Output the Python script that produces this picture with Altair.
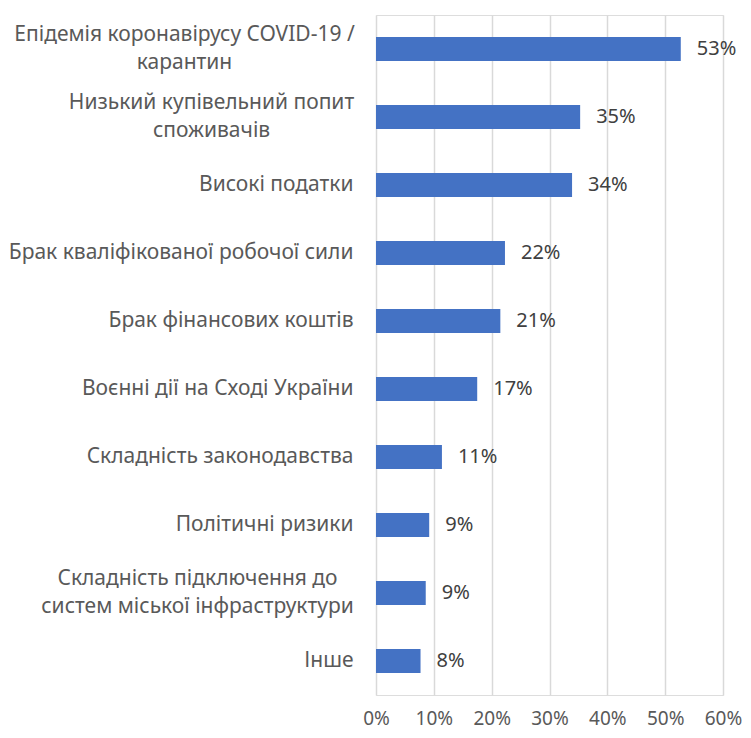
import altair as alt
import pandas as pd

categories = [
    "Епідемія коронавірусу COVID-19 /\nкарантин",
    "Низький купівельний попит\nспоживачів",
    "Високі податки",
    "Брак кваліфікованої робочої сили",
    "Брак фінансових коштів",
    "Воєнні дії на Сході України",
    "Складність законодавства",
    "Політичні ризики",
    "Складність підключення до\nсистем міської інфраструктури",
    "Інше",
]
values = [0.527, 0.353, 0.339, 0.223, 0.215, 0.175, 0.114, 0.092, 0.086, 0.077]
labels = ["53%", "35%", "34%", "22%", "21%", "17%", "11%", "9%", "9%", "8%"]

df = pd.DataFrame({"cat": categories, "val": values, "lab": labels})

FONT = "Noto Sans"
MULTI = "indexof(datum.value, '\\n') >= 0"

y = alt.Y(
    "cat:N",
    sort=categories,
    title=None,
    scale=alt.Scale(paddingInner=0.65, paddingOuter=0.325),
    axis=alt.Axis(
        domain=False,
        ticks=False,
        labelExpr="split(datum.label, '\\n')",
        labelFont=FONT,
        labelFontSize=21,
        labelColor="#595959",
        labelLineHeight=28,
        labelAlign={"condition": {"test": MULTI, "value": "center"}, "value": "right"},
        labelPadding={
            "condition": [
                {"test": "indexof(datum.value, 'Епідемія') >= 0", "value": 192},
                {"test": "indexof(datum.value, 'Низький') >= 0", "value": 165},
                {"test": "indexof(datum.value, 'підключення') >= 0", "value": 179},
            ],
            "value": 23,
        },
        labelLimit=400,
        labelOffset={"condition": {"test": MULTI, "value": -14}, "value": 0},
        grid=False,
    ),
)
x = alt.X(
    "val:Q",
    title=None,
    scale=alt.Scale(domain=[0, 0.6], nice=False),
    axis=alt.Axis(
        format=".0%",
        values=[0, 0.1, 0.2, 0.3, 0.4, 0.5, 0.6],
        domain=False,
        ticks=False,
        grid=True,
        gridColor="#d9d9d9",
        gridWidth=1.5,
        labelFont=FONT,
        labelFontSize=19,
        labelColor="#595959",
        labelPadding=14,
        labelOverlap=False,
        labelFlush=False,
    ),
)

bars = alt.Chart(df).mark_bar(color="#4472C4").encode(x=x, y=y)
text = alt.Chart(df).mark_text(
    align="left", baseline="middle", dx=16, font=FONT, fontSize=20, color="#404040"
).encode(x="val:Q", y=alt.Y("cat:N", sort=categories), text="lab:N")

chart = (
    alt.layer(bars, text)
    .properties(
        width=347,
        height=680,
        autosize=alt.AutoSizeParams(type="none"),
        padding={"left": 368, "top": 7, "right": 20, "bottom": 35},
    )
    .configure_view(stroke=None)
    .configure(background="white")
)

chart.save("out.html", embed_options={"renderer": "svg", "actions": False})
